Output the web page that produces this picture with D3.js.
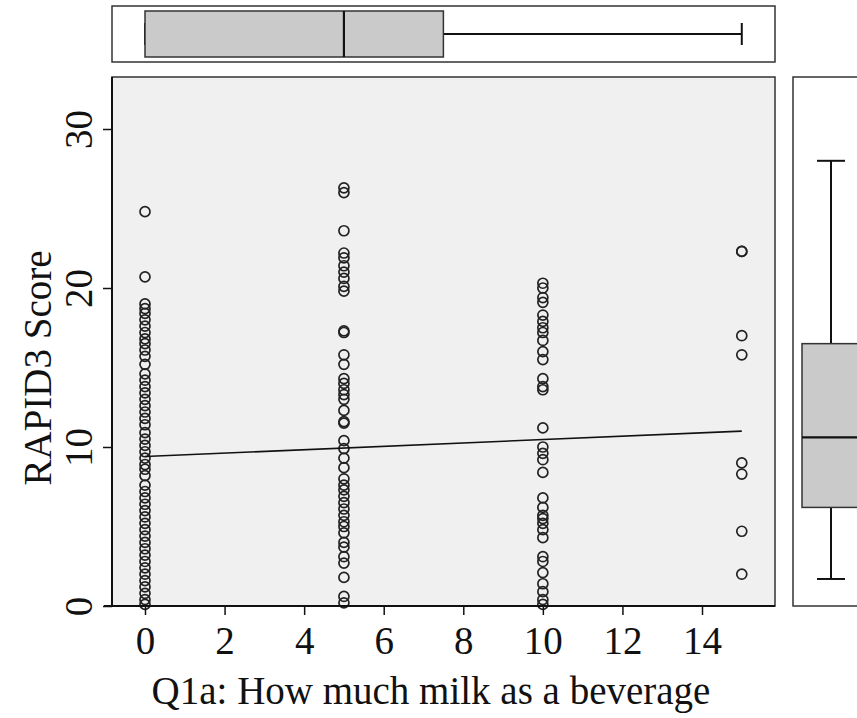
<!DOCTYPE html>
<html>
<head>
<meta charset="utf-8">
<script src="https://cdn.jsdelivr.net/npm/d3@7"></script>
<style>
  body { margin: 0; background: #fff; }
  text { font-family: "Liberation Serif", "Times New Roman", serif; fill: #111; }
</style>
</head>
<body>
<div id="chart"></div>
<script>
// milk amount categories and RAPID3 scores
const milkLevels = [0, 5, 10, 15];
const scoresAt0 = [24.8, 20.7, 19.0, 18.7, 18.4, 18.0, 17.6, 17.2, 16.8, 16.5, 16.1, 15.7, 15.2, 14.6,
  14.2, 13.8, 13.4, 13.0, 12.6, 12.2, 11.8, 11.4, 10.9, 10.5, 10.1, 9.7, 9.3, 8.9, 8.6, 8.2, 7.6,
  7.2, 6.8, 6.4, 6.0, 5.6, 5.2, 4.8, 4.4, 4.0, 3.6, 3.2, 2.8, 2.4, 2.0, 1.6, 1.2, 0.8, 0.4, 0.1];
const scoresAt5 = [26.3, 26.0, 23.6, 22.2, 21.9, 21.4, 21.0, 20.6, 20.1, 19.8, 17.3, 17.2, 15.8, 15.2,
  14.3, 14.0, 13.6, 13.3, 13.0, 12.3, 11.6, 11.5, 10.4, 9.9, 9.3, 8.7, 8.0, 7.6, 7.3, 6.9, 6.5, 6.1,
  5.7, 5.3, 5.0, 4.6, 4.0, 3.7, 3.1, 2.7, 1.8, 0.6, 0.2];
const scoresAt10 = [20.3, 20.0, 19.4, 19.1, 18.3, 17.9, 17.5, 17.2, 16.7, 16.0, 15.5, 14.3, 13.8, 13.6,
  11.2, 10.0, 9.6, 9.2, 8.4, 6.8, 6.2, 5.7, 5.5, 5.2, 4.8, 4.3, 3.1, 2.8, 2.1, 1.4, 0.9, 0.4, 0.1];
const scoresAt15 = [22.3, 22.3, 17.0, 15.8, 9.0, 8.3, 4.7, 2.0];
const scoreLists = [scoresAt0, scoresAt5, scoresAt10, scoresAt15];

// fitted line [milk, score]
const fitLine = [[0, 9.4], [15, 11.0]];
// boxplot stats [min, q1, median, q3, max]
const milkBox = [0, 0, 5, 7.5, 15];
const scoreBox = [1.7, 6.2, 10.6, 16.5, 28.0];

const xTicks = [0, 2, 4, 6, 8, 10, 12, 14];
const yTicks = [0, 10, 20, 30];

const W = 857, H = 718;
const panel = { left: 112, right: 775, top: 77, bottom: 606 };

const svg = d3.select("#chart").append("svg")
  .attr("width", W).attr("height", H);

const x = d3.scaleLinear().domain([0, 14]).range([145, 702]);
const y = d3.scaleLinear().domain([0, 30]).range([606, 129]);

// main panel
svg.append("rect")
  .attr("x", panel.left).attr("y", panel.top)
  .attr("width", panel.right - panel.left).attr("height", panel.bottom - panel.top)
  .attr("fill", "#f0f0f0").attr("stroke", "#333").attr("stroke-width", 1.5);

const points = [];
milkLevels.forEach((m, i) => scoreLists[i].forEach(s => points.push({ m: m, s: s })));

svg.append("g").selectAll("circle")
  .data(points)
  .enter().append("circle")
  .attr("cx", d => x(d.m))
  .attr("cy", d => y(d.s))
  .attr("r", 5)
  .attr("fill", "none")
  .attr("stroke", "#222")
  .attr("stroke-width", 1.7);

svg.append("path")
  .attr("d", d3.line().x(d => x(d[0])).y(d => y(d[1]))(fitLine))
  .attr("stroke", "#111").attr("stroke-width", 1.6).attr("fill", "none");

// axes
const xAxis = svg.append("g")
  .attr("transform", `translate(0,${panel.bottom})`)
  .call(d3.axisBottom(x).tickValues(xTicks).tickSize(9).tickSizeOuter(0));
xAxis.select(".domain").remove();
xAxis.append("line").attr("x1", 104).attr("x2", panel.right).attr("stroke", "#111").attr("stroke-width", 2);
xAxis.selectAll(".tick line").attr("stroke", "#111").attr("stroke-width", 1.5);
xAxis.selectAll(".tick text")
  .attr("y", 20).attr("dy", "0.71em")
  .style("font-size", "39px").style("font-family", "Liberation Serif").attr("fill", "#111");

const yAxis = svg.append("g")
  .attr("transform", `translate(${panel.left},0)`)
  .call(d3.axisLeft(y).tickValues(yTicks).tickSize(9).tickSizeOuter(0));
yAxis.select(".domain").remove();
yAxis.append("line").attr("y1", panel.top).attr("y2", panel.bottom).attr("stroke", "#111").attr("stroke-width", 2);
yAxis.selectAll(".tick line").attr("stroke", "#111").attr("stroke-width", 1.5);
yAxis.selectAll(".tick text")
  .attr("x", 0).attr("dy", 0)
  .attr("transform", "translate(-20,0) rotate(-90)")
  .attr("text-anchor", "middle")
  .style("font-size", "39px").style("font-family", "Liberation Serif").attr("fill", "#111");

svg.append("text")
  .attr("x", 431).attr("y", 704)
  .attr("text-anchor", "middle")
  .style("font-size", "39px")
  .text("Q1a: How much milk as a beverage");

svg.append("text")
  .attr("transform", "translate(51,368) rotate(-90)")
  .attr("text-anchor", "middle")
  .style("font-size", "39px")
  .text("RAPID3 Score");

// top boxplot (milk)
const topPanel = { y0: 6, y1: 62, mid: 34 };
svg.append("rect")
  .attr("x", panel.left).attr("y", topPanel.y0)
  .attr("width", panel.right - panel.left).attr("height", topPanel.y1 - topPanel.y0)
  .attr("fill", "#fff").attr("stroke", "#333").attr("stroke-width", 1.5);
const tb = svg.append("g");
tb.append("line").attr("x1", x(milkBox[3])).attr("x2", x(milkBox[4]))
  .attr("y1", topPanel.mid).attr("y2", topPanel.mid).attr("stroke", "#111").attr("stroke-width", 2);
tb.append("line").attr("x1", x(milkBox[4])).attr("x2", x(milkBox[4]))
  .attr("y1", topPanel.mid - 11).attr("y2", topPanel.mid + 11).attr("stroke", "#111").attr("stroke-width", 2);
tb.append("line").attr("x1", x(milkBox[0])).attr("x2", x(milkBox[0]))
  .attr("y1", topPanel.mid - 11).attr("y2", topPanel.mid + 11).attr("stroke", "#111").attr("stroke-width", 2);
tb.append("rect")
  .attr("x", x(milkBox[1])).attr("y", 11)
  .attr("width", x(milkBox[3]) - x(milkBox[1])).attr("height", 46)
  .attr("fill", "#cacaca").attr("stroke", "#333").attr("stroke-width", 1.5);
tb.append("line").attr("x1", x(milkBox[2])).attr("x2", x(milkBox[2]))
  .attr("y1", 11).attr("y2", 57).attr("stroke", "#111").attr("stroke-width", 2.2);

// right boxplot (score)
const side = { x0: 793, x1: 875, mid: 831 };
svg.append("rect")
  .attr("x", side.x0).attr("y", panel.top)
  .attr("width", side.x1 - side.x0).attr("height", panel.bottom - panel.top)
  .attr("fill", "#fff").attr("stroke", "#333").attr("stroke-width", 1.5);
const rb = svg.append("g");
rb.append("line").attr("x1", side.mid).attr("x2", side.mid)
  .attr("y1", y(scoreBox[0])).attr("y2", y(scoreBox[4])).attr("stroke", "#111").attr("stroke-width", 2);
[scoreBox[0], scoreBox[4]].forEach(v => {
  rb.append("line").attr("x1", side.mid - 14).attr("x2", side.mid + 14)
    .attr("y1", y(v)).attr("y2", y(v)).attr("stroke", "#111").attr("stroke-width", 2);
});
rb.append("rect")
  .attr("x", 802).attr("y", y(scoreBox[3]))
  .attr("width", 60).attr("height", y(scoreBox[1]) - y(scoreBox[3]))
  .attr("fill", "#cacaca").attr("stroke", "#333").attr("stroke-width", 1.5);
rb.append("line").attr("x1", 802).attr("x2", 862)
  .attr("y1", y(scoreBox[2])).attr("y2", y(scoreBox[2])).attr("stroke", "#111").attr("stroke-width", 2.2);
</script>
</body>
</html>
